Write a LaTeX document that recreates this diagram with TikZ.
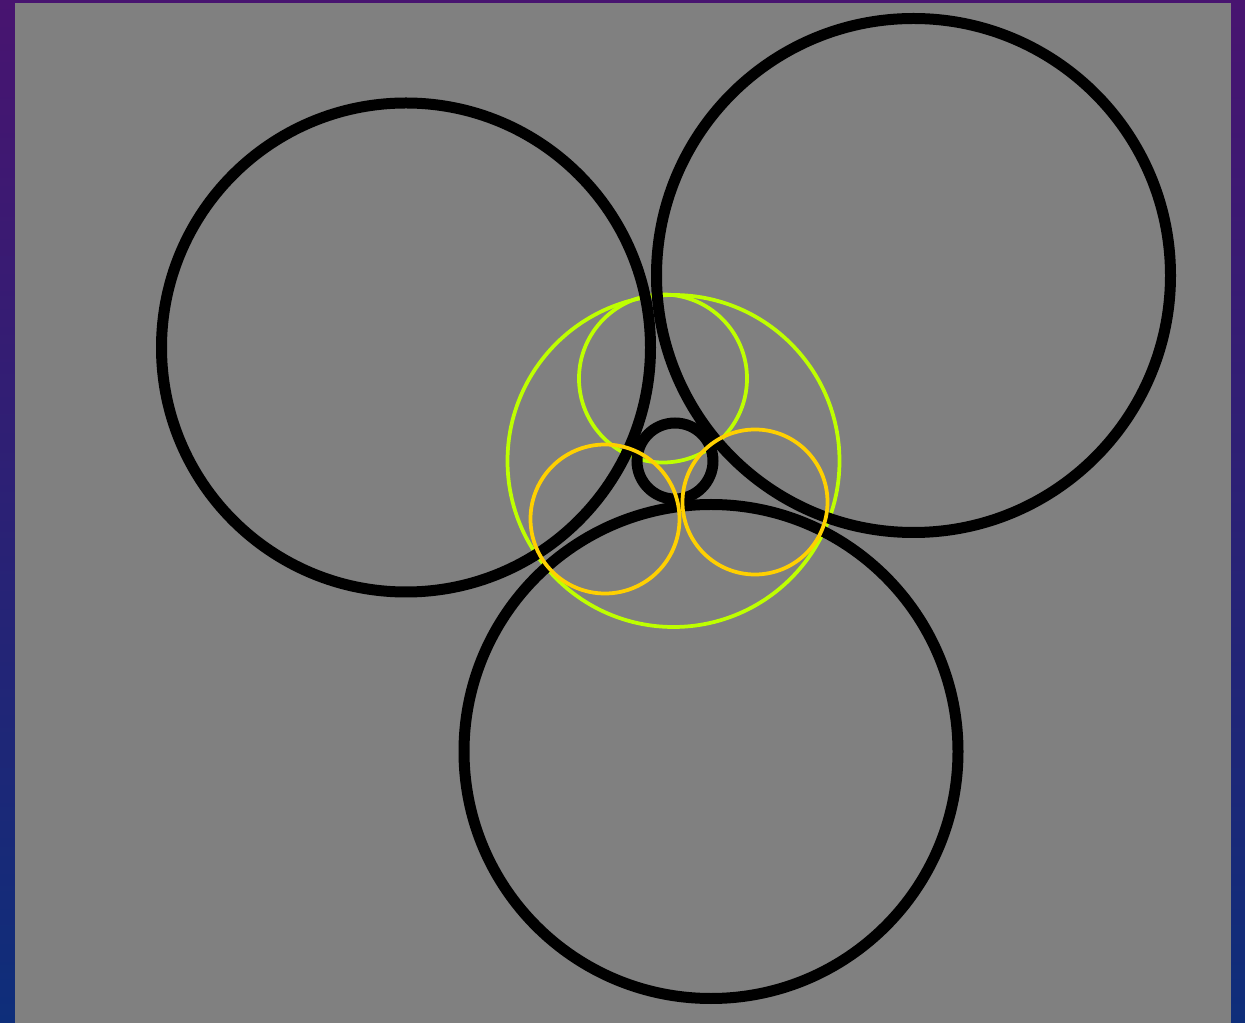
\documentclass[tikz,border=0pt]{standalone}
\definecolor{bgtop}{RGB}{72,20,112}
\definecolor{bgbot}{RGB}{14,46,122}
\definecolor{panel}{RGB}{128,128,128}
\definecolor{lime}{RGB}{190,255,0}
\definecolor{gold}{RGB}{255,208,0}
\begin{document}
\begin{tikzpicture}[x=0.02cm,y=-0.02cm,
  bigring/.style={draw=black,line width=0.22cm},
  limering/.style={draw=lime,line width=0.075cm},
  goldring/.style={draw=gold,line width=0.075cm}]
\useasboundingbox (0,0) rectangle (1245,1023);
\shade[top color=bgtop,bottom color=bgbot] (0,0) rectangle (1245,1023);
\fill[panel] (15,3) rectangle (1231,1023);
% lime circles
\draw[limering] (673.5,461) circle[radius=166];
\draw[limering] (663,378.5) circle[radius=84];
% black circles
\draw[bigring] (406,347.5) circle[radius=244.5];
\draw[bigring] (913.5,275.5) circle[radius=257];
\draw[bigring] (711,751.5) circle[radius=247];
\draw[bigring] (675,461) circle[radius=38];
% gold circles
\draw[goldring] (605,519) circle[radius=74.5];
\draw[goldring] (755,502) circle[radius=72.5];
\end{tikzpicture}
\end{document}
